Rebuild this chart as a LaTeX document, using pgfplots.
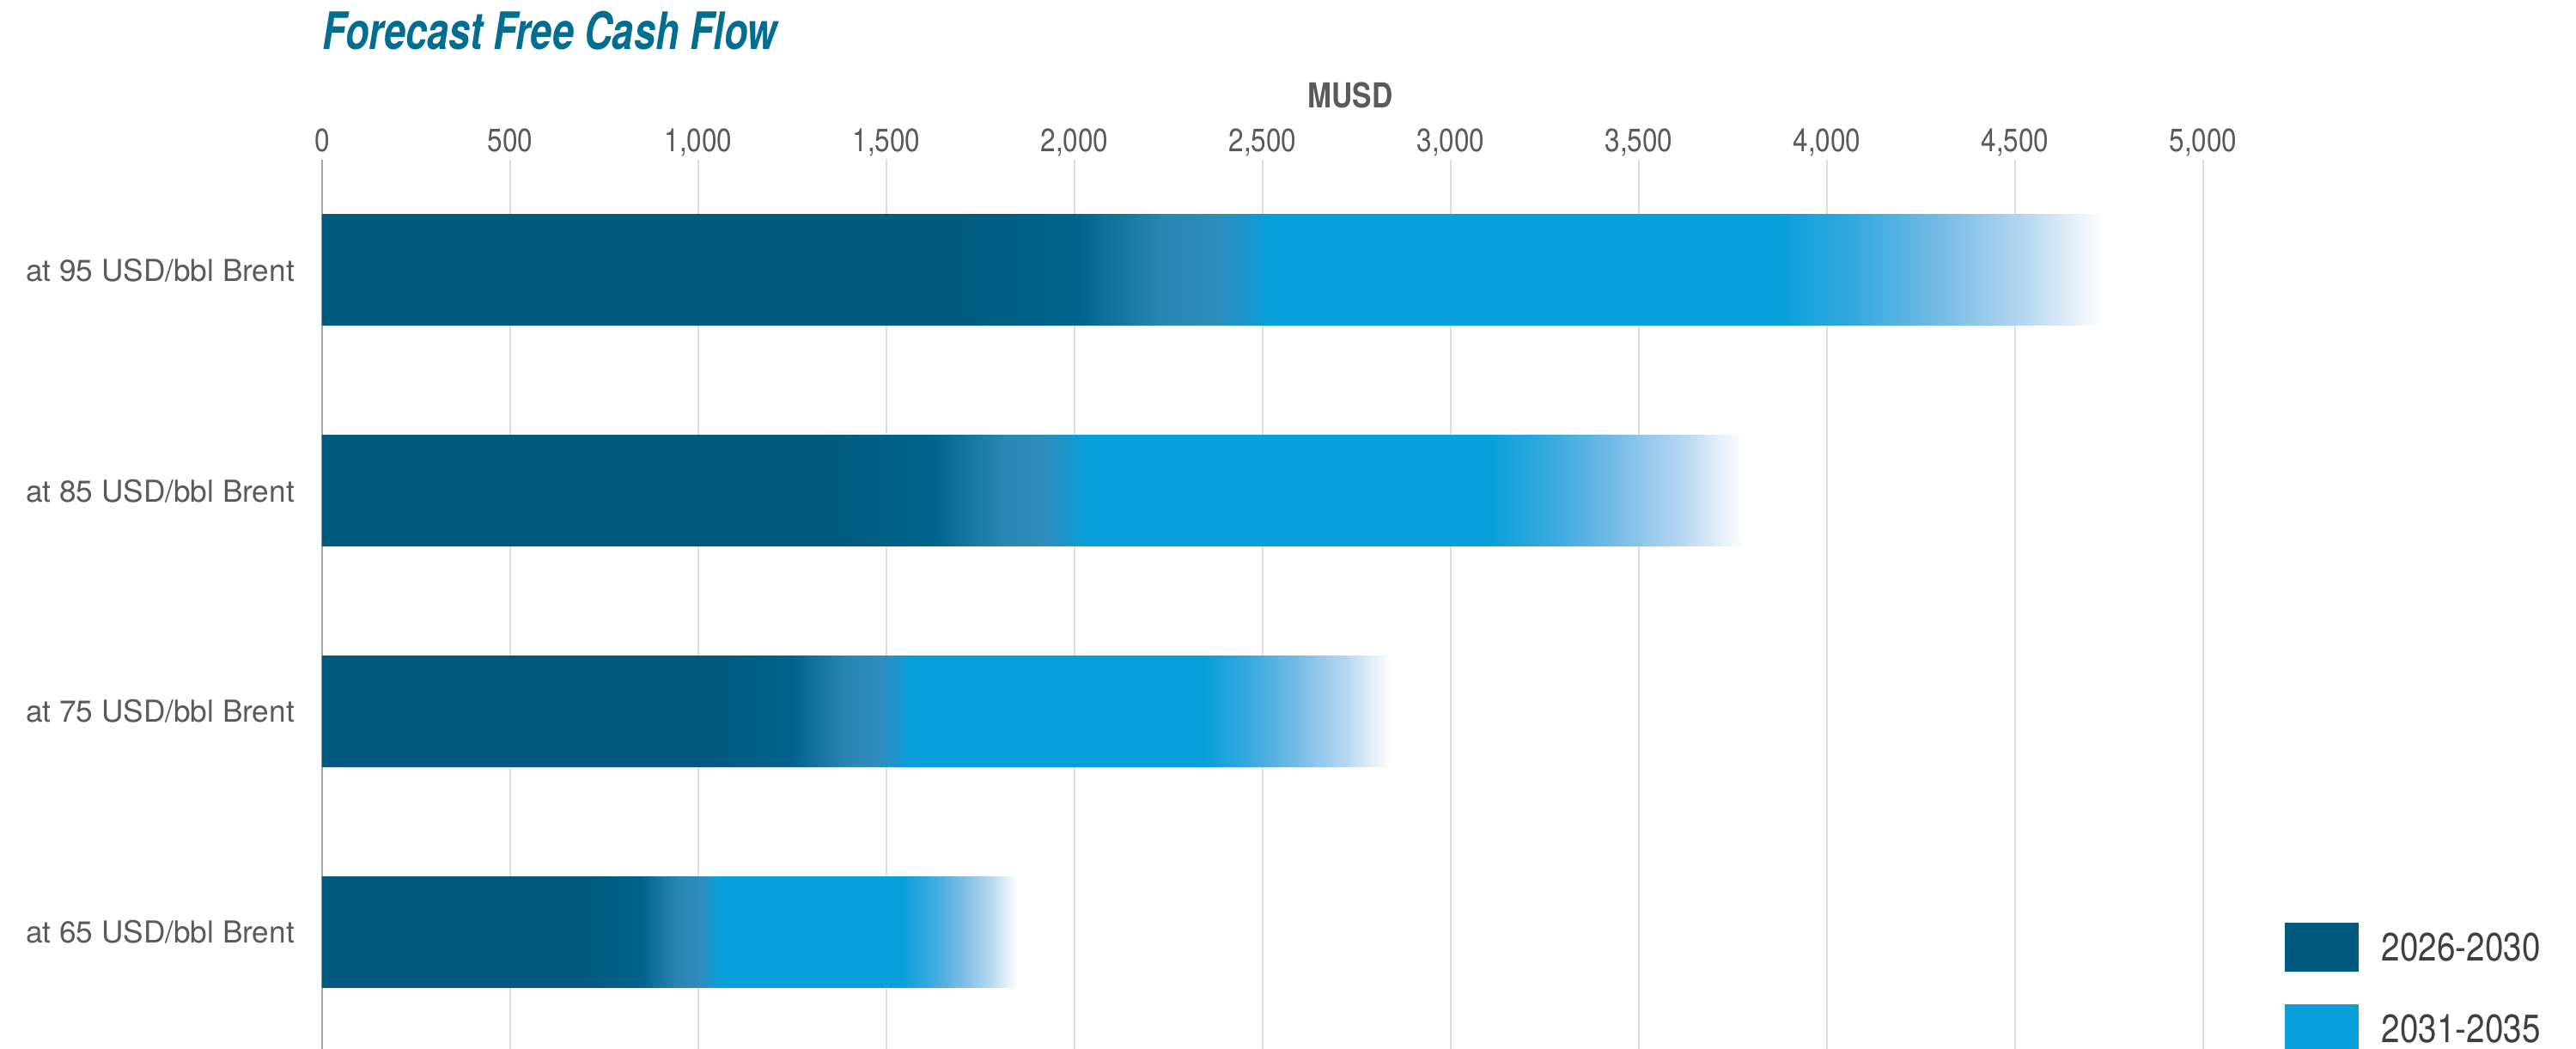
\documentclass[border=0pt]{standalone}
\usepackage{fontspec}
\setmainfont{TeX Gyre Heros}[FakeStretch=0.84]
\newfontfamily\titlefont{TeX Gyre Heros}[FakeStretch=0.75]
\newfontfamily\ylabfont{TeX Gyre Heros}
\usepackage{pgfplots}
\pgfplotsset{compat=1.18}

\definecolor{cdark}{RGB}{0,90,128}
\definecolor{cdarkb}{RGB}{0,99,139}
\definecolor{cmid}{RGB}{42,134,180}
\definecolor{cmidb}{RGB}{46,141,190}
\definecolor{clight}{RGB}{8,159,218}
\definecolor{cfa}{RGB}{53,169,223}
\definecolor{cfb}{RGB}{120,188,230}
\definecolor{cfc}{RGB}{181,215,240}
\definecolor{ctitle}{RGB}{0,110,143}
\definecolor{tickgray}{RGB}{90,90,90}
\definecolor{leggray}{RGB}{64,64,64}

% dark segment: relative to its own length
\pgfdeclarehorizontalshading{darkshade}{100bp}{color(0bp)=(cdark); color(25bp)=(cdark); color(60bp)=(cdark); color(67bp)=(cdarkb); color(72bp)=(cmid); color(75bp)=(cmidb); color(100bp)=(cmidb)}
% light bars drawn from 0 to total, one shading per bar
\pgfdeclarehorizontalshading{lightA}{100bp}{color(0bp)=(cmidb); color(50.13bp)=(cmidb); color(51.63bp)=(clight); color(65.80bp)=(clight); color(68.04bp)=(cfa); color(70.52bp)=(cfb); color(72.76bp)=(cfc); color(75bp)=(white); color(100bp)=(white)}
\pgfdeclarehorizontalshading{lightB}{100bp}{color(0bp)=(cmidb); color(50.46bp)=(cmidb); color(51.93bp)=(clight); color(65.93bp)=(clight); color(68.13bp)=(cfa); color(70.58bp)=(cfb); color(72.79bp)=(cfc); color(75bp)=(white); color(100bp)=(white)}
\pgfdeclarehorizontalshading{lightC}{100bp}{color(0bp)=(cmidb); color(51.14bp)=(cmidb); color(52.57bp)=(clight); color(66.18bp)=(clight); color(68.33bp)=(cfa); color(70.70bp)=(cfb); color(72.85bp)=(cfc); color(75bp)=(white); color(100bp)=(white)}
\pgfdeclarehorizontalshading{lightD}{100bp}{color(0bp)=(cmidb); color(52.16bp)=(cmidb); color(53.54bp)=(clight); color(66.54bp)=(clight); color(68.60bp)=(cfa); color(70.89bp)=(cfb); color(72.95bp)=(cfc); color(75bp)=(white); color(100bp)=(white)}

\begin{document}
\begin{tikzpicture}
\begin{axis}[
  name=ax, at={(0,0)}, anchor=south west,
  width=547.5pt, height=258.75pt, scale only axis,
  xbar, bar width=32.25pt, bar shift=0pt,
  xmin=0, xmax=5000, ymin=-0.53, ymax=3.5,
  axis x line*=top, axis y line*=left,
  x axis line style={draw=none},
  y axis line style={draw=black!35, line width=0.6pt},
  xtick={0,500,...,5000}, ytick={0,1,2,3},
  yticklabels={at 65 USD/bbl Brent, at 75 USD/bbl Brent, at 85 USD/bbl Brent, at 95 USD/bbl Brent},
  xmajorgrids, major grid style={draw=black!13, line width=0.5pt},
  major tick length=0pt, tick style={draw=none},
  xticklabel style={anchor=base, yshift=2.25pt, font=\fontsize{9.4}{11}\selectfont, text=tickgray},
  yticklabel style={font=\ylabfont\fontsize{8.8}{10}\selectfont, text=tickgray, xshift=-4.5pt},
  /pgf/number format/1000 sep={,},
  /pgf/number format/assume math mode=true,
  clip=false,
]
% totals (2026-2035), drawn first; the 2031-2035 part is what remains visible
\addplot[draw=none, shade, shading=lightA] coordinates {(4735,3)};
\addplot[draw=none, shade, shading=lightB] coordinates {(3780,2)};
\addplot[draw=none, shade, shading=lightC] coordinates {(2840,1)};
\addplot[draw=none, shade, shading=lightD] coordinates {(1850,0)};
% 2026-2030
\addplot[draw=none, shade, shading=darkshade] coordinates {(2380,3)};
\addplot[draw=none, shade, shading=darkshade] coordinates {(1925,2)};
\addplot[draw=none, shade, shading=darkshade] coordinates {(1485,1)};
\addplot[draw=none, shade, shading=darkshade] coordinates {(1005,0)};

\fill[cdark] (rel axis cs:1.04338,0.14203) rectangle (rel axis cs:1.08265,0.08696);
\fill[clight] (rel axis cs:1.04338,0.05024) rectangle (rel axis cs:1.08265,-0.00483);
\node[anchor=west, inner sep=0pt, font=\fontsize{11.5}{13}\selectfont, text=leggray] at (rel axis cs:1.09452,0.1145) {2026-2030};
\node[anchor=west, inner sep=0pt, font=\fontsize{11.5}{13}\selectfont, text=leggray] at (rel axis cs:1.09452,0.0227) {2031-2035};

\node[anchor=base west, inner sep=0pt, yshift=32.2pt, font=\titlefont\bfseries\itshape\fontsize{15}{17}\selectfont, text=ctitle] at (rel axis cs:0,1) {Forecast Free Cash Flow};
\node[anchor=base, inner sep=0pt, yshift=15pt, font=\bfseries\fontsize{10}{12}\selectfont, text=tickgray] at (rel axis cs:0.5466,1) {MUSD};
\end{axis}
\pgfresetboundingbox
\path (ax.south west) ++(-93.75pt,0pt) rectangle ++(749.75pt,305.25pt);
\end{tikzpicture}
\end{document}
